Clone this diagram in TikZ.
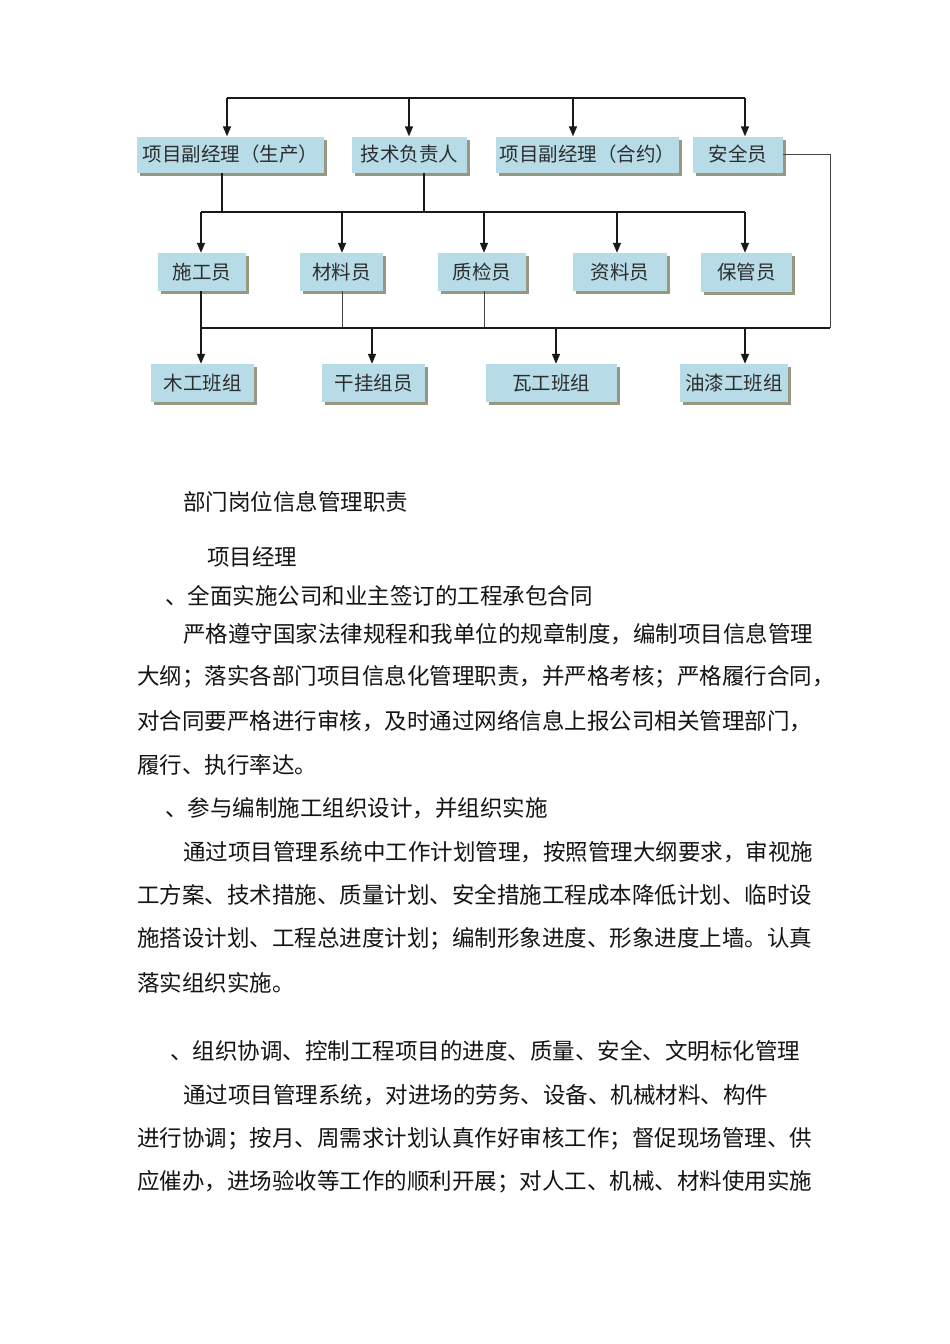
\documentclass[tikz,border=0pt]{standalone}
\usepackage{fontspec}
\setmainfont{Noto Sans CJK SC}
\usetikzlibrary{arrows.meta,shadows}
\definecolor{boxfill}{RGB}{183,220,232}
\definecolor{shadowc}{RGB}{150,152,130}
\definecolor{linec}{RGB}{25,25,25}
\definecolor{sidec}{RGB}{70,70,70}
\definecolor{txt}{RGB}{45,45,45}
\definecolor{bodyc}{RGB}{20,20,20}
\begin{document}
\begin{tikzpicture}[x=1pt,y=-1pt,
  orgbox/.style={fill=boxfill, minimum height=36pt, inner sep=0pt, text=txt,
    font=\fontsize{19.5}{21}\selectfont,
    drop shadow={shadow xshift=3pt, shadow yshift=-3pt, opacity=1, fill=shadowc}},
  conn/.style={draw=linec, line width=1.4pt},
  midline/.style={draw=linec, line width=1.1pt},
  thinline/.style={draw=sidec, line width=0.9pt},
  arr/.style={conn, -{Triangle[length=10pt,width=8pt]}},
  body/.style={anchor=west, inner sep=0pt, text=bodyc, font=\fontsize{22.5}{27}\selectfont}
]
\fill[white] (0,0) rectangle (950,1344);
\useasboundingbox (0,0) rectangle (950,1344);

% row 1
\node[orgbox, minimum width=187pt] (pA) at (230.5,154.5) {项目副经理（生产）};
\node[orgbox, minimum width=115pt] (pB) at (409.5,154.5) {技术负责人};
\node[orgbox, minimum width=183pt] (pC) at (587.5,154.5) {项目副经理（合约）};
\node[orgbox, minimum width=90pt]  (pD) at (738,154.5) {安全员};

% row 2
\node[orgbox, minimum width=88pt, minimum height=38pt] (b1) at (202,272) {施工员};
\node[orgbox, minimum width=83pt, minimum height=38pt] (b2) at (341.5,272) {材料员};
\node[orgbox, minimum width=88pt, minimum height=38pt] (b3) at (482,272) {质检员};
\node[orgbox, minimum width=94pt, minimum height=38pt] (b4) at (620,272) {资料员};
\node[orgbox, minimum width=91pt, minimum height=39pt] (b5) at (746.5,272.5) {保管员};

% row 3
\node[orgbox, minimum width=103pt, minimum height=38pt] (c1) at (202.5,383) {木工班组};
\node[orgbox, minimum width=103pt, minimum height=38pt] (c2) at (373.5,383) {干挂组员};
\node[orgbox, minimum width=131pt, minimum height=38pt] (c3) at (551,383) {瓦工班组};
\node[orgbox, minimum width=108pt, minimum height=38pt] (c4) at (734,383) {油漆工班组};

% top bus
\coordinate (t1) at (227,98);
\coordinate (t2) at (409,98);
\coordinate (t3) at (573,98);
\coordinate (t4) at (745,98);
\draw[conn] (t1) -- (t4);
\draw[arr] (t1) -- (t1 |- pA.north);
\draw[arr] (t2) -- (t2 |- pB.north);
\draw[arr] (t3) -- (t3 |- pC.north);
\draw[arr] (t4) -- (t4 |- pD.north);

% middle bus
\coordinate (a1) at (222,212);
\coordinate (a2) at (424,212);
\draw[conn] (a1 |- pA.south) -- (a1);
\draw[conn] (a2 |- pB.south) -- (a2);
\coordinate (m1) at (201,212);
\coordinate (m2) at (342,212);
\coordinate (m3) at (484,212);
\coordinate (m4) at (617,212);
\coordinate (m5) at (745,212);
\draw[midline] (m1) -- (m5);
\draw[arr] (m1) -- (m1 |- b1.north);
\draw[arr] (m2) -- (m2 |- b2.north);
\draw[arr] (m3) -- (m3 |- b3.north);
\draw[arr] (m4) -- (m4 |- b4.north);
\draw[arr] (m5) -- (m5 |- b5.north);

% lower bus
\coordinate (l1) at (201,328);
\coordinate (l2) at (372,328);
\coordinate (l3) at (556,328);
\coordinate (l4) at (745,328);
\coordinate (lE) at (830,328);
\coordinate (k2) at (342,328);
\coordinate (k3) at (484,328);
\draw[conn] (l1 |- b1.south) -- (l1);
\draw[thinline] (k2 |- b2.south) -- (k2);
\draw[thinline] (k3 |- b3.south) -- (k3);
\draw[thinline] (pD.east) -- (pD.east -| lE) -- (lE);
\draw[midline] (l1) -- (lE);
\draw[arr] (l1) -- (l1 |- c1.north);
\draw[arr] (l2) -- (l2 |- c2.north);
\draw[arr] (l3) -- (l3 |- c3.north);
\draw[arr] (l4) -- (l4 |- c4.north);

% body text
\node[body] (h1) at (183,502) {部门岗位信息管理职责};
\node[body] (h2) at (207,557) {项目经理};
\node[body] (s1) at (165,596) {、全面实施公司和业主签订的工程承包合同};
\node[body] (p11) at (183,634) {严格遵守国家法律规程和我单位的规章制度，编制项目信息管理};
\node[body] (p12) at (137,677) {大纲；落实各部门项目信息化管理职责，并严格考核；严格履行合同，};
\node[body] (p13) at (137,721) {对合同要严格进行审核，及时通过网络信息上报公司相关管理部门，};
\node[body] (p14) at (137,765) {履行、执行率达。};
\node[body] (s2) at (165,808) {、参与编制施工组织设计，并组织实施};
\node[body] (p21) at (183,852) {通过项目管理系统中工作计划管理，按照管理大纲要求，审视施};
\node[body] (p22) at (137,895) {工方案、技术措施、质量计划、安全措施工程成本降低计划、临时设};
\node[body] (p23) at (137,939) {施搭设计划、工程总进度计划；编制形象进度、形象进度上墙。认真};
\node[body] (p24) at (137,983) {落实组织实施。};
\node[body] (s3) at (170,1051) {、组织协调、控制工程项目的进度、质量、安全、文明标化管理};
\node[body] (p31) at (183,1095) {通过项目管理系统，对进场的劳务、设备、机械材料、构件};
\node[body] (p32) at (137,1139) {进行协调；按月、周需求计划认真作好审核工作；督促现场管理、供};
\node[body] (p33) at (137,1182) {应催办，进场验收等工作的顺利开展；对人工、机械、材料使用实施};
\end{tikzpicture}
\end{document}
